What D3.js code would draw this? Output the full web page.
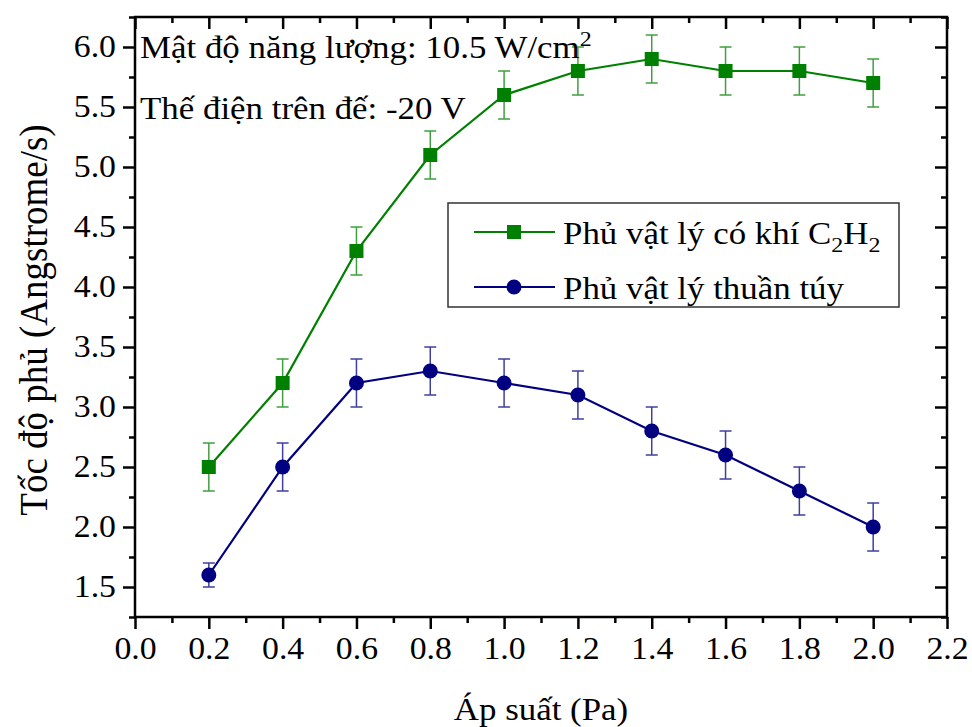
<!DOCTYPE html>
<html>
<head>
<meta charset="utf-8">
<script src="https://cdn.jsdelivr.net/npm/d3@7"></script>
<style>
  body { margin: 0; background: #fff; }
  svg { display: block; }
  text { font-family: "Liberation Serif", "Times New Roman", serif; fill: #000; }
</style>
</head>
<body>
<svg id="chart" width="972" height="727"></svg>
<script>
// ---- data ----
const pressures = [0.2, 0.4, 0.6, 0.8, 1.0, 1.2, 1.4, 1.6, 1.8, 2.0];
const rateC2H2 = [2.5, 3.2, 4.3, 5.1, 5.6, 5.8, 5.9, 5.8, 5.8, 5.7];
const errC2H2 = [0.2, 0.2, 0.2, 0.2, 0.2, 0.2, 0.2, 0.2, 0.2, 0.2];
const ratePure = [1.6, 2.5, 3.2, 3.3, 3.2, 3.1, 2.8, 2.6, 2.3, 2.0];
const errPure = [0.1, 0.2, 0.2, 0.2, 0.2, 0.2, 0.2, 0.2, 0.2, 0.2];
const xTicks = [0.0, 0.2, 0.4, 0.6, 0.8, 1.0, 1.2, 1.4, 1.6, 1.8, 2.0, 2.2];
const yTicks = [1.5, 2.0, 2.5, 3.0, 3.5, 4.0, 4.5, 5.0, 5.5, 6.0];
const seriesNames = ["Phủ vật lý có khí C", "Phủ vật lý thuần túy"];
const annotations = ["Mật độ năng lượng: 10.5 W/cm", "Thế điện trên đế: -20 V"];

const svg = d3.select("#chart");
const L = 135, R = 947, T = 17, B = 617;
const x = d3.scaleLinear().domain([0, 2.2]).range([L, R]);
const y = d3.scaleLinear().domain([1.25, 6.25]).range([B, T]);
const fs = 32, fsTick = 31, fsSub = 22;
const sx = 1.09; // horizontal stretch of the reference's text

const green = "#008000", navy = "#000080";

const xMinor = d3.range(0.1, 2.2, 0.2);
const yMinor = d3.range(1.25, 6.26, 0.5);

function styleAxis(g) {
  g.select(".domain").remove();
  g.selectAll("line").attr("stroke", "#000").attr("stroke-width", 2.5);
  g.selectAll("text").style("font-size", fsTick + "px").style("font-family", "'Liberation Serif', serif");
}

// bottom axis (outward)
svg.append("g").attr("transform", `translate(0,${B})`)
  .call(d3.axisBottom(x).tickValues(xTicks).tickFormat(d3.format(".1f")).tickSize(12).tickPadding(8))
  .call(styleAxis)
  .selectAll("text").attr("transform", `scale(${sx},1)`);
svg.append("g").attr("transform", `translate(0,${B})`)
  .call(d3.axisBottom(x).tickValues(xMinor).tickFormat("").tickSize(6))
  .call(styleAxis);
// top axis (inward)
svg.append("g").attr("transform", `translate(0,${T})`)
  .call(d3.axisBottom(x).tickValues(xTicks).tickFormat("").tickSize(12))
  .call(styleAxis);
svg.append("g").attr("transform", `translate(0,${T})`)
  .call(d3.axisBottom(x).tickValues(xMinor).tickFormat("").tickSize(6))
  .call(styleAxis);
// left axis (outward)
svg.append("g").attr("transform", `translate(${L},0)`)
  .call(d3.axisLeft(y).tickValues(yTicks).tickFormat(d3.format(".1f")).tickSize(12).tickPadding(7))
  .call(styleAxis)
  .selectAll("text").attr("x", -19 / sx).attr("transform", `scale(${sx},1)`);
svg.append("g").attr("transform", `translate(${L},0)`)
  .call(d3.axisLeft(y).tickValues(yMinor).tickFormat("").tickSize(6))
  .call(styleAxis);
// right axis (inward)
svg.append("g").attr("transform", `translate(${R},0)`)
  .call(d3.axisLeft(y).tickValues(yTicks).tickFormat("").tickSize(12))
  .call(styleAxis);
svg.append("g").attr("transform", `translate(${R},0)`)
  .call(d3.axisLeft(y).tickValues(yMinor).tickFormat("").tickSize(6))
  .call(styleAxis);

// frame
svg.append("rect").attr("x", L).attr("y", T).attr("width", R - L).attr("height", B - T)
  .attr("fill", "none").attr("stroke", "#000").attr("stroke-width", 2.5);

// series
function drawSeries(vals, errs, color, shape) {
  const data = pressures.map((p, i) => ({ p, v: vals[i], e: errs[i] }));
  const g = svg.append("g");
  const eb = g.selectAll(".eb").data(data).enter().append("g")
    .attr("stroke", color).attr("stroke-width", 1.5).attr("opacity", 0.75);
  eb.append("line").attr("x1", d => x(d.p)).attr("x2", d => x(d.p))
    .attr("y1", d => y(d.v - d.e)).attr("y2", d => y(d.v + d.e));
  eb.append("line").attr("x1", d => x(d.p) - 6).attr("x2", d => x(d.p) + 6)
    .attr("y1", d => y(d.v - d.e)).attr("y2", d => y(d.v - d.e));
  eb.append("line").attr("x1", d => x(d.p) - 6).attr("x2", d => x(d.p) + 6)
    .attr("y1", d => y(d.v + d.e)).attr("y2", d => y(d.v + d.e));
  g.append("path").datum(data)
    .attr("d", d3.line().x(d => x(d.p)).y(d => y(d.v)))
    .attr("fill", "none").attr("stroke", color).attr("stroke-width", 2.2);
  if (shape === "square") {
    g.selectAll(".m").data(data).enter().append("rect")
      .attr("x", d => x(d.p) - 7).attr("y", d => y(d.v) - 7)
      .attr("width", 14).attr("height", 14).attr("fill", color);
  } else {
    g.selectAll(".m").data(data).enter().append("circle")
      .attr("cx", d => x(d.p)).attr("cy", d => y(d.v)).attr("r", 7.5).attr("fill", color);
  }
}
drawSeries(rateC2H2, errC2H2, green, "square");
drawSeries(ratePure, errPure, navy, "circle");

function stretchedText(px, py, str, size, anchor) {
  return svg.append("text")
    .attr("transform", `translate(${px},${py}) scale(${sx},1)`)
    .attr("text-anchor", anchor || "start")
    .style("font-size", size + "px").text(str);
}

// annotations
const a1 = stretchedText(140, 58, annotations[0], fs);
a1.append("tspan").attr("dy", -12).style("font-size", fsSub + "px").text("2");
stretchedText(140, 119, annotations[1], fs);

// legend
svg.append("rect").attr("x", 448).attr("y", 203).attr("width", 451).attr("height", 104)
  .attr("fill", "#fff").attr("stroke", "#333").attr("stroke-width", 1.5);
const lg = [
  { y: 232, color: green, shape: "square" },
  { y: 287, color: navy, shape: "circle" }
];
lg.forEach((d, i) => {
  svg.append("line").attr("x1", 474).attr("x2", 555).attr("y1", d.y).attr("y2", d.y)
    .attr("stroke", d.color).attr("stroke-width", 2.2);
  if (d.shape === "square") {
    svg.append("rect").attr("x", 514 - 7).attr("y", d.y - 7).attr("width", 14).attr("height", 14).attr("fill", d.color);
  } else {
    svg.append("circle").attr("cx", 514).attr("cy", d.y).attr("r", 7.5).attr("fill", d.color);
  }
  const t = stretchedText(563, d.y + 12, seriesNames[i], fs);
  if (i === 0) {
    t.append("tspan").attr("dy", 8).style("font-size", fsSub + "px").text("2");
    t.append("tspan").attr("dy", -8).text("H");
    t.append("tspan").attr("dy", 8).style("font-size", fsSub + "px").text("2");
  }
});

// axis titles
stretchedText((L + R) / 2, 720, "Áp suất (Pa)", fs, "middle");
svg.append("text").attr("transform", `translate(47,${(T + B) / 2 + 3}) scale(${sx},1) rotate(-90)`)
  .attr("text-anchor", "middle").style("font-size", "37px").text("Tốc độ phủ (Angstrome/s)");
</script>
</body>
</html>
